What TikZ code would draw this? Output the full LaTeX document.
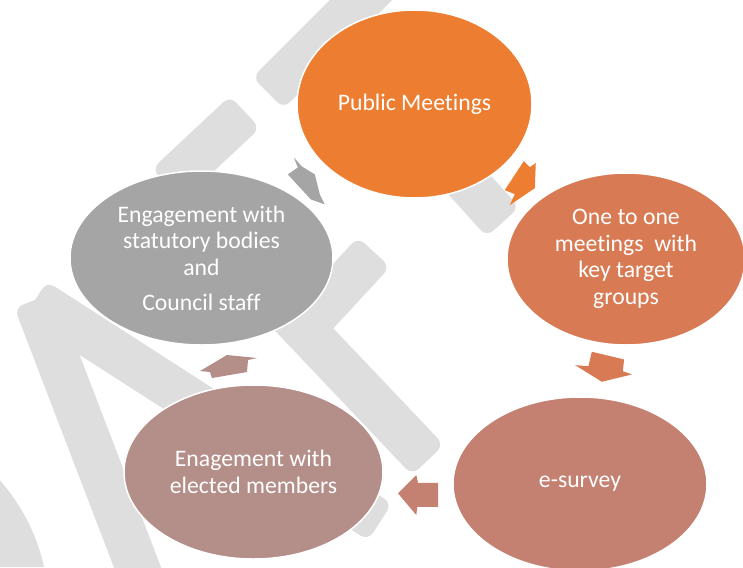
\documentclass[tikz,border=0pt]{standalone}
\usepackage{fontspec}
\setmainfont{Carlito}[Ligatures={NoCommon,NoContextual,NoRare},Contextuals={NoAlternate}]
\usetikzlibrary{shapes.geometric,calc}

\definecolor{wm}{RGB}{222,222,222}
\definecolor{cPM}{RGB}{237,125,49}
\definecolor{cOT}{RGB}{216,123,84}
\definecolor{cES}{RGB}{196,128,112}
\definecolor{cEM}{RGB}{180,142,136}
\definecolor{cSB}{RGB}{165,165,165}

\tikzset{
  stage/.style={ellipse, draw=white, line width=1.5pt, inner sep=0pt,
    text=white, align=center, font=\fontsize{23.7}{26.5}\selectfont},
}

% one straight stroke of the watermark lettering, from #1 to #2
\newcommand\wmband[2]{%
  \fill[wm, rounded corners=9pt]
    ($(#1)!22pt!90:(#2)$) -- ($(#1)!22pt!-90:(#2)$) --
    ($(#2)!22pt!90:(#1)$) -- ($(#2)!22pt!-90:(#1)$) -- cycle;}

\begin{document}
\begin{tikzpicture}[x=1pt,y=-1pt]
\useasboundingbox (0,0) rectangle (743,567);
\begin{scope}
\clip (0,0) rectangle (743,567);

% watermark strokes
\wmband{470,-109}{268,93}
\wmband{330,31}{503,222}
\wmband{167,185}{245,112}
\wmband{167,185}{428,460}
\wmband{300,332}{374,252}
\wmband{35,300}{380,522}
\wmband{35,300}{150,600}
\fill[wm] (-2,478) .. controls (22,505) and (37,535) .. (44,567) -- (-2,567) -- cycle;

% stages of the cycle
\node[stage, fill=cPM, minimum width=235, minimum height=188] (pm) at (414.5,104) {Public Meetings};
\node[stage, fill=cOT, minimum width=238, minimum height=172] (oto) at (626,259) {One to one\\meetings\ \ with\\key target\\groups};
\node[stage, fill=cES, minimum width=254, minimum height=174] (es) at (580,484) {e-survey};
\node[stage, fill=cEM, minimum width=259, minimum height=174] (em) at (253.5,472) {Enagement with\\elected members};
\node[stage, fill=cSB, minimum width=263, minimum height=174] (sb) at (201.5,258) {Engagement with\\statutory bodies\\and\\[8.5pt]Council staff};

% block arrows between consecutive stages
\path (pm) -- (oto) coordinate[midway] (a1);
\path (oto) -- (es) coordinate[midway] (a2);
\path (es) -- (em) coordinate[midway] (a3);
\path (em) -- (sb) coordinate[midway] (a4);
\path (sb) -- (pm) coordinate[midway] (a5);

\begin{scope}[shift={(a1)}]
  \fill[cPM] (2,-21.5) -- (8,-15.5) -- (14,-19.5) -- (13,5.5) -- (-12,22.5) -- (-7,11.5) -- (-17,7.5) -- cycle;
\end{scope}
\begin{scope}[shift={(a2)}]
  \fill[cOT] (-11.3,-19.2) -- (21,-11.5) -- (19.7,0.2) -- (28.7,3.5) -- (-1.3,10.8) -- (-28,-5.8) -- (-14.7,-4.8) -- cycle;
\end{scope}
\begin{scope}[shift={(a3)}]
  \fill[cES] (20,4.7) -- (20,28.7) -- (-0.7,28.7) -- (-1.7,37) -- (-20,15.3) -- (-1.7,-3) -- (0,4.7) -- cycle;
\end{scope}
\begin{scope}[shift={(a4)}]
  \fill[cEM] (-27.5,6) -- (-0.5,-10) -- (29.5,-7) -- (20.5,-5) -- (19.5,7) -- (-15.5,13) -- (-17.5,7) -- cycle;
\end{scope}
\begin{scope}[shift={(a5)}]
  \fill[cSB] (-15,-23) -- (-7,-14) -- (6,-6) -- (11,14) -- (16,24) -- (2,19) -- (-21,-6) -- (-11,-13) -- cycle;
\end{scope}
\end{scope}
\end{tikzpicture}
\end{document}
